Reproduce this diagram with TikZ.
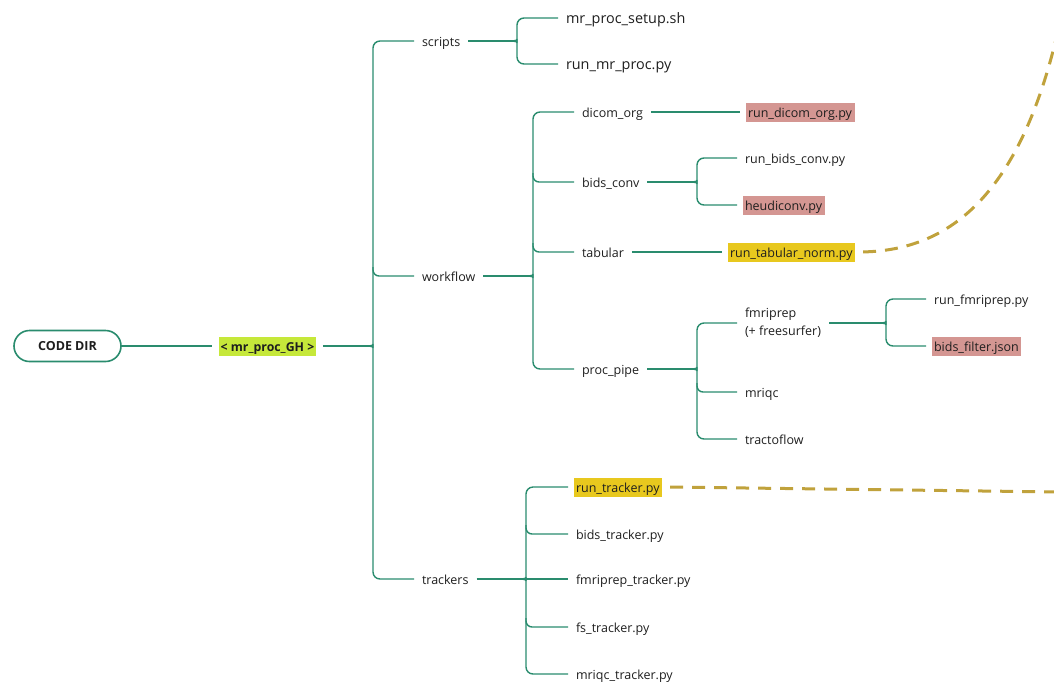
\documentclass[tikz,border=0pt]{standalone}
\usepackage{fontspec}
\setmainfont{Open Sans}
\usetikzlibrary{calc}
\definecolor{tealline}{RGB}{42,140,110}
\definecolor{txtcol}{RGB}{30,30,30}
\definecolor{limehl}{RGB}{198,232,58}
\definecolor{pinkhl}{RGB}{212,150,146}
\definecolor{yellowhl}{RGB}{232,200,30}
\definecolor{golddash}{RGB}{192,162,60}
\newcommand\bracetop[2]{\draw[br,rounded corners=7pt] (#1.west) -| ($(#2)+(0,-5)$) to[out=-90,in=0] ($(#2)+(-4,0)$);}
\newcommand\bracebot[2]{\draw[br,rounded corners=7pt] (#1.west) -| ($(#2)+(0,5)$) to[out=90,in=0] ($(#2)+(-4,0)$);}
\newcommand\bracemid[2]{\draw[br,rounded corners=6pt] ($(#1.west -| #2)+(0,-9)$) -- (#1.west -| #2) -- (#1.west);}
\newcommand\bracein[2]{\draw[br] (#1.east) -- ($(#2)+(-4,0)$);}
\begin{document}
\begin{tikzpicture}[x=1pt,y=-1pt,
  br/.style={draw=tealline,line width=1.4pt},
  txt/.style={font=\fontsize{12.5}{15}\selectfont, text=txtcol, inner xsep=0pt, inner ysep=3pt, outer xsep=8pt, outer ysep=0pt, text height=11.5pt, text depth=1.5pt, anchor=west},
  bigtxt/.style={txt, font=\fontsize{14.4}{17}\selectfont},
  hl/.style={txt, inner xsep=2.5pt, outer xsep=5.5pt},
  twoline/.style={font=\fontsize{12.5}{18}\selectfont, text=txtcol, inner sep=0pt, outer xsep=8pt, align=left, anchor=west},
  dsh/.style={draw=golddash,line width=3pt,dash pattern=on 13pt off 9pt}]
\useasboundingbox (0,0) rectangle (1054,689);
\clip (0,0) rectangle (1054,689);
% root
\node[draw=tealline, line width=1.6pt, rounded corners=15.5pt, minimum width=107pt, minimum height=31pt, inner sep=0pt, outer xsep=0pt, font=\fontsize{12.5}{15}\selectfont\bfseries, text=txtcol] (code) at (67.5,346) {CODE DIR};
\node[hl, fill=limehl, anchor=center, font=\fontsize{12.3}{15}\selectfont\bfseries, inner xsep=1.5pt, outer xsep=7pt] (gh) at (267.5,346) {< mr\_proc\_GH >};
\draw[br] (code.east) -- (gh.west);
% level 1
\node[txt] (scripts) at (414,41) {scripts};
\node[txt] (workflow) at (414,276) {workflow};
\node[txt] (trackers) at (414,579) {trackers};
\coordinate (bM) at (373,346);
\bracein{gh}{bM}
\bracetop{scripts}{bM}
\bracemid{workflow}{bM}
\bracebot{trackers}{bM}
% scripts
\node[bigtxt] (setup) at (558,18) {mr\_proc\_setup.sh};
\node[bigtxt] (runmr) at (558,64) {run\_mr\_proc.py};
\coordinate (bS) at (517,41);
\bracein{scripts}{bS}
\bracetop{setup}{bS}
\bracebot{runmr}{bS}
% workflow
\node[txt] (dicom) at (574,112) {dicom\_org};
\node[txt] (bids) at (574,182) {bids\_conv};
\node[txt] (tab) at (574,252) {tabular};
\node[txt] (proc) at (574,369) {proc\_pipe};
\coordinate (bW) at (533,276);
\bracein{workflow}{bW}
\bracetop{dicom}{bW}
\bracemid{bids}{bW}
\bracemid{tab}{bW}
\bracebot{proc}{bW}
% dicom_org
\node[hl, fill=pinkhl] (rdo) at (740,112) {run\_dicom\_org.py};
\draw[br] (dicom.east) -- (rdo.west);
% bids_conv
\node[txt] (rbc) at (737,158) {run\_bids\_conv.py};
\node[hl, fill=pinkhl] (heu) at (737,205) {heudiconv.py};
\coordinate (bB) at (697,182);
\bracein{bids}{bB}
\bracetop{rbc}{bB}
\bracebot{heu}{bB}
% tabular
\node[hl, fill=yellowhl] (rtn) at (722,252) {run\_tabular\_norm.py};
\draw[br] (tab.east) -- (rtn.west);
% proc_pipe
\node[twoline] (fmri) at (737,323) {fmriprep\\(+ freesurfer)};
\node[txt] (mriqc) at (737,392) {mriqc};
\node[txt] (tracto) at (737,439) {tractoflow};
\coordinate (bP) at (697,369);
\bracein{proc}{bP}
\bracetop{fmri}{bP}
\bracemid{mriqc}{bP}
\bracebot{tracto}{bP}
% fmriprep
\node[txt] (rfm) at (926,299) {run\_fmriprep.py};
\node[hl, fill=pinkhl] (bfj) at (926,346) {bids\_filter.json};
\coordinate (bF) at (886,323);
\bracein{fmri}{bF}
\bracetop{rfm}{bF}
\bracebot{bfj}{bF}
% trackers
\node[hl, fill=yellowhl] (rt) at (568,487) {run\_tracker.py};
\node[txt] (bt) at (568,534) {bids\_tracker.py};
\node[txt] (ft) at (568,579) {fmriprep\_tracker.py};
\node[txt] (fst) at (568,627) {fs\_tracker.py};
\node[txt] (mt) at (568,674) {mriqc\_tracker.py};
\coordinate (bT) at (526,579);
\bracein{trackers}{bT}
\bracetop{rt}{bT}
\bracemid{bt}{bT}
\draw[br] ($(bT)+(-4,0)$) -- (ft.west);
\bracemid{fst}{bT}
\bracebot{mt}{bT}
% dashed links
\coordinate (e1) at (1060,22);
\coordinate (e2) at (1062,492);
\draw[dsh, shorten <=2.5pt] (rtn.east) .. controls (950,250) and (1022,195) .. (e1);
\draw[dsh, shorten <=2.5pt] (rt.east) -- (e2);
\end{tikzpicture}
\end{document}
